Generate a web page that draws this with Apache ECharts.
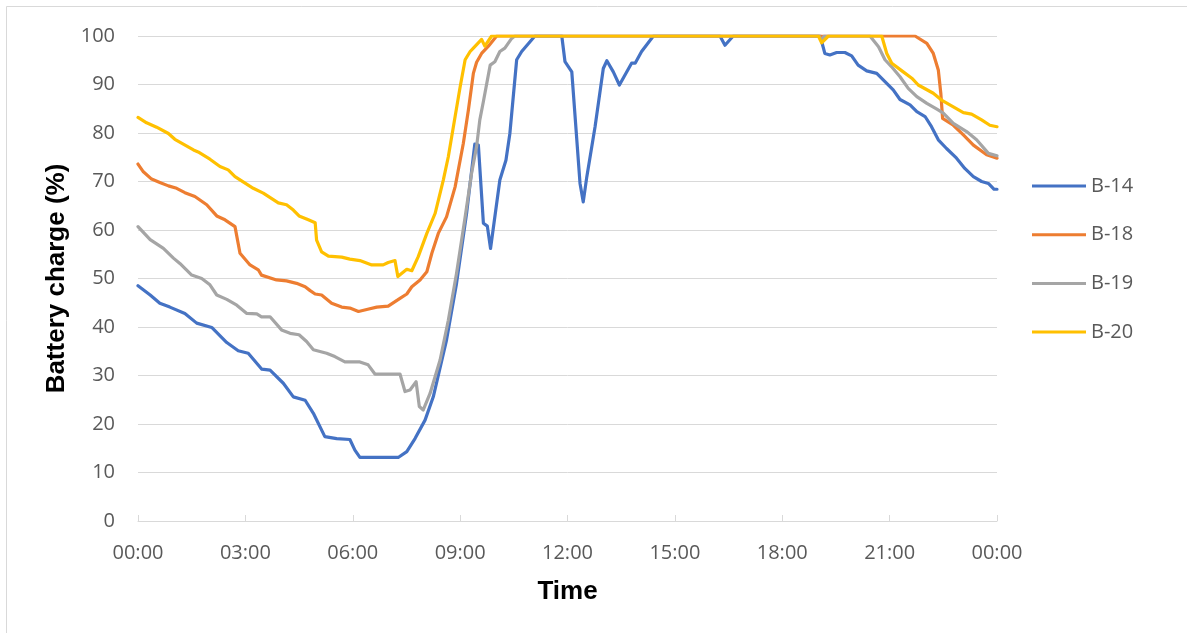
<!DOCTYPE html>
<html>
<head>
<meta charset="utf-8">
<title>Battery charge</title>
<script src="https://cdn.jsdelivr.net/npm/echarts@6/dist/echarts.min.js"></script>
<style>
  html, body { margin: 0; padding: 0; background: #ffffff; }
  #chart { width: 1187px; height: 633px; }
</style>
</head>
<body>
<div id="chart"></div>
<script>
// Battery state of charge over one day, [hour, percent]
const B14 = [[0,48.5],[0.34,46.6],[0.61,44.9],[0.89,44.1],[1.31,42.8],[1.64,40.8],[2.06,39.9],[2.48,36.8],[2.8,35.1],[3.08,34.6],[3.46,31.3],[3.69,31.1],[4.06,28.4],[4.34,25.6],[4.67,24.9],[4.9,22.2],[5.22,17.4],[5.55,17.0],[5.92,16.8],[6.06,14.6],[6.2,13.1],[7.27,13.1],[7.51,14.3],[7.74,17.0],[8.02,20.8],[8.25,25.6],[8.62,37.3],[8.9,49.0],[9.18,63.4],[9.41,77.7],[9.51,77.5],[9.65,61.4],[9.76,60.8],[9.85,56.2],[10.11,70.3],[10.28,74.4],[10.39,79.9],[10.58,95.1],[10.72,96.8],[11.09,100],[11.84,100],[11.93,94.7],[12.12,92.6],[12.35,69.6],[12.44,65.8],[12.54,71.0],[12.77,81.3],[13.0,93.3],[13.1,94.9],[13.28,92.6],[13.45,89.9],[13.79,94.4],[13.89,94.4],[14.07,96.8],[14.4,100],[16.26,100],[16.4,98.1],[16.63,100],[19.06,100],[19.19,96.4],[19.33,96.1],[19.52,96.6],[19.75,96.6],[19.94,95.9],[20.12,94.0],[20.36,92.8],[20.64,92.3],[20.87,90.6],[21.1,88.9],[21.29,86.9],[21.57,85.8],[21.76,84.4],[21.99,83.4],[22.17,81.3],[22.36,78.6],[22.59,76.8],[22.87,74.8],[23.1,72.7],[23.34,71.0],[23.57,70.0],[23.76,69.6],[23.92,68.4],[24,68.4]];

const B18 = [[0,73.6],[0.15,72.0],[0.38,70.5],[0.61,69.8],[0.85,69.1],[1.08,68.6],[1.31,67.7],[1.59,66.9],[1.92,65.2],[2.2,62.9],[2.43,62.1],[2.71,60.7],[2.85,55.2],[3.13,52.8],[3.36,51.8],[3.45,50.7],[3.87,49.7],[4.15,49.5],[4.43,49.0],[4.67,48.3],[4.81,47.5],[4.95,46.8],[5.13,46.6],[5.41,44.9],[5.69,44.1],[5.92,43.9],[6.16,43.2],[6.39,43.6],[6.67,44.1],[6.99,44.3],[7.32,45.9],[7.51,46.8],[7.65,48.3],[7.88,49.7],[8.07,51.4],[8.21,55.2],[8.39,59.3],[8.62,62.7],[8.86,68.9],[9.09,77.9],[9.23,84.7],[9.37,92.3],[9.46,94.6],[9.6,96.4],[9.79,97.9],[10.02,100],[21.71,100],[22.04,98.5],[22.22,96.4],[22.36,93.0],[22.43,88.2],[22.48,83.0],[22.78,81.6],[23.06,79.6],[23.34,77.5],[23.71,75.5],[24,74.8]];

const B19 = [[0,60.7],[0.34,58.0],[0.71,56.2],[0.99,54.2],[1.17,53.1],[1.5,50.7],[1.78,50.0],[2.01,48.7],[2.2,46.6],[2.48,45.7],[2.76,44.5],[3.04,42.8],[3.32,42.7],[3.45,42.1],[3.69,42.1],[4.01,39.4],[4.25,38.7],[4.5,38.4],[4.71,37.0],[4.9,35.3],[5.27,34.6],[5.5,33.9],[5.78,32.8],[6.2,32.8],[6.43,32.2],[6.62,30.3],[7.32,30.3],[7.46,26.7],[7.6,27.0],[7.77,28.7],[7.86,23.6],[7.97,22.9],[8.16,26.3],[8.44,33.2],[8.67,41.4],[8.9,51.1],[9.14,62.7],[9.32,71.7],[9.46,77.2],[9.55,82.7],[9.65,86.5],[9.84,94.0],[9.97,94.7],[10.11,96.8],[10.25,97.5],[10.44,99.5],[10.53,100],[19.03,100],[19.1,99.0],[19.17,100],[20.45,100],[20.69,97.8],[20.87,95.1],[21.05,93.7],[21.29,91.6],[21.52,89.2],[21.76,87.5],[22.04,86.1],[22.32,84.9],[22.5,84.1],[22.78,82.0],[23.15,80.3],[23.43,78.6],[23.76,75.8],[24,75.3]];

const B20 = [[0,83.2],[0.24,82.1],[0.52,81.2],[0.85,79.9],[1.03,78.7],[1.55,76.5],[1.68,76.1],[2.01,74.6],[2.29,73.1],[2.52,72.4],[2.71,71.0],[3.22,68.6],[3.5,67.6],[3.92,65.6],[4.15,65.2],[4.34,64.1],[4.5,62.9],[4.76,62.1],[4.95,61.5],[4.99,57.9],[5.13,55.5],[5.32,54.6],[5.69,54.4],[5.92,54.0],[6.2,53.7],[6.53,52.8],[6.85,52.8],[6.99,53.3],[7.18,53.7],[7.26,50.4],[7.51,51.9],[7.65,51.6],[7.83,54.5],[8.07,59.3],[8.3,63.4],[8.53,70.3],[8.67,75.1],[8.86,83.4],[9.0,89.5],[9.14,95.1],[9.28,96.8],[9.37,97.5],[9.6,99.3],[9.69,97.9],[9.88,100],[19.01,100],[19.1,98.6],[19.29,100],[20.78,100],[20.92,96.4],[21.06,94.4],[21.38,92.6],[21.62,91.3],[21.8,89.9],[22.22,88.2],[22.45,86.8],[22.78,85.4],[23.06,84.2],[23.29,83.9],[23.57,82.7],[23.8,81.6],[24,81.3]];

const seriesNames = ['B-14', 'B-18', 'B-19', 'B-20'];
const seriesData = [B14, B18, B19, B20];
const seriesColors = ['#4472C4', '#ED7D31', '#A5A5A5', '#FFC000'];

const axisFont = '"Open Sans", "Noto Sans", sans-serif';
const titleFont = '"Liberation Sans", Arial, sans-serif';

function hourLabel(v) {
  const h = Math.round(v) % 24;
  return (h < 10 ? '0' + h : '' + h) + ':00';
}

const chart = echarts.init(document.getElementById('chart'), null, { renderer: 'canvas' });

chart.setOption({
  animation: false,
  backgroundColor: '#ffffff',
  graphic: [{
    type: 'rect',
    shape: { x: 6.5, y: 6.5, width: 1400, height: 800 },
    style: { fill: 'none', stroke: '#d9d9d9', lineWidth: 1 },
    silent: true
  }],
  grid: { left: 138, right: 190, top: 36, bottom: 112, containLabel: false },
  legend: {
    orient: 'vertical',
    left: 1032,
    top: 176,
    padding: 0,
    icon: 'rect',
    itemWidth: 54,
    itemHeight: 3,
    itemGap: 28.7,
    data: seriesNames,
    textStyle: { fontFamily: axisFont, fontSize: 20, color: '#595959', lineHeight: 20 }
  },
  xAxis: {
    type: 'value',
    min: 0,
    max: 24,
    interval: 3,
    name: 'Time',
    nameLocation: 'middle',
    nameGap: 58,
    nameTextStyle: { fontFamily: titleFont, fontSize: 26, fontWeight: 'bold', color: '#000000' },
    axisLine: { show: true, lineStyle: { color: '#d9d9d9', width: 1 } },
    axisTick: { show: true, inside: true, length: 6, lineStyle: { color: '#d9d9d9' } },
    splitLine: { show: false },
    axisLabel: {
      margin: 22,
      fontFamily: axisFont,
      fontSize: 20,
      color: '#595959',
      formatter: hourLabel
    }
  },
  yAxis: {
    type: 'value',
    min: 0,
    max: 100,
    interval: 10,
    name: 'Battery charge (%)',
    nameLocation: 'middle',
    nameGap: 64,
    nameTextStyle: { fontFamily: titleFont, fontSize: 26, fontWeight: 'bold', color: '#000000' },
    axisLine: { show: false },
    axisTick: { show: false },
    splitLine: { lineStyle: { color: '#d9d9d9', width: 1 } },
    axisLabel: { margin: 23, fontFamily: axisFont, fontSize: 20, color: '#595959' }
  },
  series: seriesNames.map((name, i) => ({
    name: name,
    type: 'line',
    data: seriesData[i],
    showSymbol: false,
    symbol: 'none',
    smooth: false,
    color: seriesColors[i],
    lineStyle: { width: 3.2, color: seriesColors[i], join: 'round', cap: 'round' },
    z: 2 + i
  }))
});
</script>
</body>
</html>
